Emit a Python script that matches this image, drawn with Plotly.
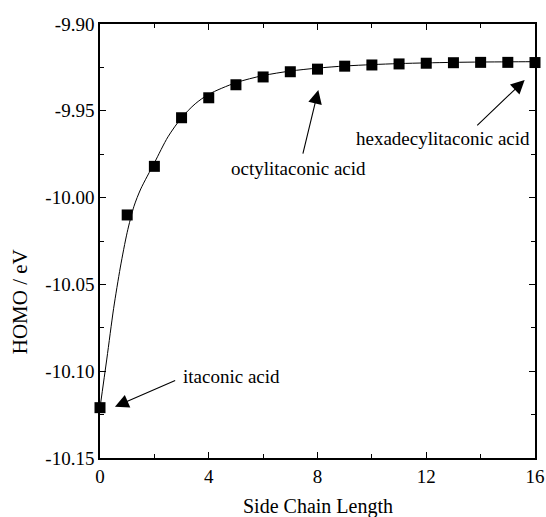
import plotly.graph_objects as go

# HOMO energies of the itaconic acid series vs. side chain length
chain_length = [0, 1, 2, 3, 4, 5, 6, 7, 8, 9, 10, 11, 12, 13, 14, 15, 16]
homo_ev = [-10.121, -10.010, -9.982, -9.954, -9.9425, -9.935, -9.9305, -9.9275,
           -9.926, -9.9243, -9.9236, -9.923, -9.9226, -9.9223, -9.9221, -9.9221, -9.9222]

# fitted trend curve
fit_x = [0, 0.25, 0.5, 0.75, 1, 1.25, 1.5, 2, 2.5, 3, 3.5, 4, 5, 6, 7, 8,
         9, 10, 11, 12, 13, 14, 15, 16]
fit_y = [-10.121, -10.093, -10.064, -10.040, -10.020, -10.005, -9.995, -9.980,
         -9.965, -9.954, -9.946, -9.9405, -9.9338, -9.9297, -9.9271, -9.9254,
         -9.9242, -9.9234, -9.9228, -9.9224, -9.9221, -9.9219, -9.9218, -9.9217]

x_ticks = [0, 4, 8, 12, 16]
y_ticks = [-10.15, -10.10, -10.05, -10.00, -9.95, -9.90]

FONT = "Liberation Serif, Times New Roman, serif"

fig = go.Figure()
fig.add_trace(go.Scatter(x=fit_x, y=fit_y, mode="lines",
                         line=dict(color="black", width=1, shape="spline", smoothing=0.8),
                         hoverinfo="skip", showlegend=False))
fig.add_trace(go.Scatter(x=chain_length, y=homo_ev, mode="markers",
                         marker=dict(symbol="square", size=11, color="black"),
                         cliponaxis=False, showlegend=False))

axis_common = dict(showgrid=False, zeroline=False, showline=True, linecolor="black",
                   linewidth=1.5, mirror="allticks", ticks="inside", ticklen=6,
                   tickwidth=1.2, tickcolor="black", automargin=False,
                   tickfont=dict(family=FONT, size=19, color="black"))

fig.update_xaxes(range=[0, 16], tickvals=x_ticks, ticktext=[str(v) for v in x_ticks],
                 minor=dict(tickvals=[2, 6, 10, 14], ticks="inside", ticklen=4,
                            tickwidth=1.2, tickcolor="black"),
                 **axis_common)
fig.update_yaxes(range=[-10.15, -9.90], tickvals=y_ticks,
                 ticktext=[f"{v:.2f}" for v in y_ticks],
                 minor=dict(tickvals=[-10.125, -10.075, -10.025, -9.975, -9.925],
                            ticks="inside", ticklen=4, tickwidth=1.2, tickcolor="black"),
                 **axis_common)

arrow = dict(showarrow=True, arrowhead=2, arrowsize=2.5, arrowwidth=1.1,
             arrowcolor="black", axref="x", ayref="y", text="")
annotations = [
    # arrows
    dict(x=0.55, y=-10.1205, ax=2.82, ay=-10.105, **arrow),
    dict(x=8.03, y=-9.938, ax=7.45, ay=-9.9755, **arrow),
    dict(x=15.62, y=-9.9323, ax=13.82, ay=-9.9592, **arrow),
    # labels
    dict(x=2.99, y=-10.1028, text="itaconic acid", showarrow=False, xanchor="left",
         yanchor="middle", font=dict(family=FONT, size=19, color="black")),
    dict(x=7.30, y=-9.983, text="octylitaconic acid", showarrow=False, xanchor="center",
         yanchor="middle", font=dict(family=FONT, size=19, color="black")),
    dict(x=12.63, y=-9.9657, text="hexadecylitaconic acid", showarrow=False,
         xanchor="center", yanchor="middle",
         font=dict(family=FONT, size=19, color="black")),
    # axis titles
    dict(xref="paper", yref="paper", x=0.5, y=-0.08, yanchor="top", xanchor="center",
         text="Side Chain Length", showarrow=False,
         font=dict(family=FONT, size=20, color="black")),
    dict(xref="paper", yref="paper", x=-0.185, y=0.36, xanchor="center",
         yanchor="middle", textangle=-90, text="HOMO / eV", showarrow=False,
         font=dict(family=FONT, size=21, color="black")),
]

fig.update_layout(width=546, height=517, margin=dict(l=100, r=11, t=24, b=59),
                  plot_bgcolor="white", paper_bgcolor="white",
                  annotations=annotations, showlegend=False)

fig.write_html("out.html")
